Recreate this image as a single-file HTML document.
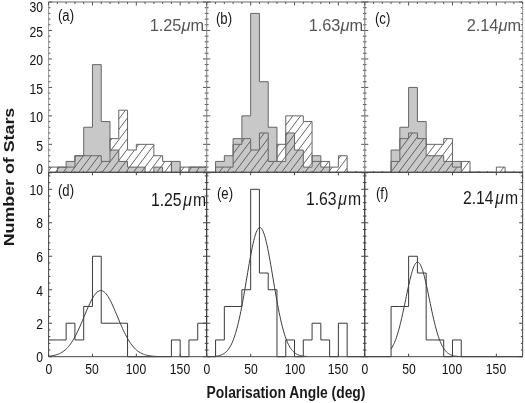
<!DOCTYPE html><html><head><meta charset="utf-8"><style>
html,body{margin:0;padding:0;background:#fff;}
body{width:525px;height:403px;overflow:hidden;position:relative;font-family:"Liberation Sans",sans-serif;}
#w{position:absolute;left:0;top:0;width:525px;height:403px;filter:blur(0.4px);}
svg{position:absolute;left:0;top:0;}
.t{position:absolute;white-space:nowrap;line-height:1;filter:grayscale(1);}
</style></head><body><div id="w">
<svg width="525" height="403" viewBox="0 0 525 403">
<defs>
<clipPath id="hc0"><path d="M48.6 172.3 L48.6 167.11 L57.37 167.11 L57.37 167.11 L66.14 167.11 L66.14 167.11 L74.92 167.11 L74.92 155.72 L83.69 155.72 L83.69 155.72 L92.46 155.72 L92.46 155.72 L101.23 155.72 L101.23 161.41 L110.01 161.41 L110.01 138.64 L118.78 138.64 L118.78 110.18 L127.55 110.18 L127.55 150.03 L136.32 150.03 L136.32 144.34 L145.09 144.34 L145.09 144.34 L153.87 144.34 L153.87 155.72 L162.64 155.72 L162.64 161.41 L171.41 161.41 L171.41 172.3 L180.18 172.3 L180.18 167.11 L188.96 167.11 L188.96 167.11 L197.73 167.11 L197.73 167.11 L206.5 167.11 L206.5 172.3 Z"/></clipPath>
<clipPath id="hc1"><path d="M206.8 172.3 L206.8 172.3 L215.57 172.3 L215.57 167.11 L224.34 167.11 L224.34 167.11 L233.12 167.11 L233.12 144.34 L241.89 144.34 L241.89 138.64 L250.66 138.64 L250.66 150.03 L259.43 150.03 L259.43 132.95 L268.21 132.95 L268.21 161.41 L276.98 161.41 L276.98 144.34 L285.75 144.34 L285.75 115.87 L294.52 115.87 L294.52 115.87 L303.29 115.87 L303.29 121.56 L312.07 121.56 L312.07 161.41 L320.84 161.41 L320.84 161.41 L329.61 161.41 L329.61 167.11 L338.38 167.11 L338.38 155.72 L347.16 155.72 L347.16 172.3 L355.93 172.3 L355.93 172.3 L364.7 172.3 L364.7 172.3 Z"/></clipPath>
<clipPath id="hc2"><path d="M364.75 172.3 L364.75 172.3 L373.52 172.3 L373.52 172.3 L382.29 172.3 L382.29 172.3 L391.07 172.3 L391.07 161.41 L399.84 161.41 L399.84 138.64 L408.61 138.64 L408.61 132.95 L417.38 132.95 L417.38 138.64 L426.16 138.64 L426.16 144.34 L434.93 144.34 L434.93 144.34 L443.7 144.34 L443.7 138.64 L452.47 138.64 L452.47 167.11 L461.24 167.11 L461.24 161.41 L470.02 161.41 L470.02 172.3 L478.79 172.3 L478.79 172.3 L487.56 172.3 L487.56 172.3 L496.33 172.3 L496.33 167.11 L505.11 167.11 L505.11 172.3 L513.88 172.3 L513.88 172.3 L522.65 172.3 L522.65 172.3 Z"/></clipPath>
</defs>
<path d="M48.6 172.3 L48.6 172.3 L57.37 172.3 L57.37 167.11 L66.14 167.11 L66.14 161.41 L74.92 161.41 L74.92 155.72 L83.69 155.72 L83.69 127.26 L92.46 127.26 L92.46 64.63 L101.23 64.63 L101.23 121.56 L110.01 121.56 L110.01 150.03 L118.78 150.03 L118.78 161.41 L127.55 161.41 L127.55 167.11 L136.32 167.11 L136.32 167.11 L145.09 167.11 L145.09 172.3 L153.87 172.3 L153.87 167.11 L162.64 167.11 L162.64 172.3 L171.41 172.3 L171.41 161.41 L180.18 161.41 L180.18 172.3 L188.96 172.3 L188.96 167.11 L197.73 167.11 L197.73 167.11 L206.5 167.11 L206.5 172.3 Z" fill="#c8c8c8" stroke="none"/>
<path d="M-93.2 172.8 L35.22 2 M-85.4 172.8 L43.02 2 M-77.6 172.8 L50.82 2 M-69.8 172.8 L58.62 2 M-62 172.8 L66.42 2 M-54.2 172.8 L74.22 2 M-46.4 172.8 L82.02 2 M-38.6 172.8 L89.82 2 M-30.8 172.8 L97.62 2 M-23 172.8 L105.42 2 M-15.2 172.8 L113.22 2 M-7.4 172.8 L121.02 2 M0.4 172.8 L128.82 2 M8.2 172.8 L136.62 2 M16 172.8 L144.42 2 M23.8 172.8 L152.22 2 M31.6 172.8 L160.02 2 M39.4 172.8 L167.82 2 M47.2 172.8 L175.62 2 M55 172.8 L183.42 2 M62.8 172.8 L191.22 2 M70.6 172.8 L199.02 2 M78.4 172.8 L206.82 2 M86.2 172.8 L214.62 2 M94 172.8 L222.42 2 M101.8 172.8 L230.22 2 M109.6 172.8 L238.02 2 M117.4 172.8 L245.82 2 M125.2 172.8 L253.62 2 M133 172.8 L261.42 2 M140.8 172.8 L269.22 2 M148.6 172.8 L277.02 2 M156.4 172.8 L284.82 2 M164.2 172.8 L292.62 2 M172 172.8 L300.42 2 M179.8 172.8 L308.22 2 M187.6 172.8 L316.02 2 M195.4 172.8 L323.82 2 M203.2 172.8 L331.62 2 M211 172.8 L339.42 2" clip-path="url(#hc0)" stroke="#555" stroke-width="0.9" fill="none"/>
<path d="M48.6 172.3 L48.6 172.3 L57.37 172.3 L57.37 167.11 L66.14 167.11 L66.14 161.41 L74.92 161.41 L74.92 155.72 L83.69 155.72 L83.69 127.26 L92.46 127.26 L92.46 64.63 L101.23 64.63 L101.23 121.56 L110.01 121.56 L110.01 150.03 L118.78 150.03 L118.78 161.41 L127.55 161.41 L127.55 167.11 L136.32 167.11 L136.32 167.11 L145.09 167.11 L145.09 172.3 L153.87 172.3 L153.87 167.11 L162.64 167.11 L162.64 172.3 L171.41 172.3 L171.41 161.41 L180.18 161.41 L180.18 172.3 L188.96 172.3 L188.96 167.11 L197.73 167.11 L197.73 167.11 L206.5 167.11 L206.5 172.3" fill="none" stroke="#666" stroke-width="1"/>
<path d="M48.6 172.3 L48.6 167.11 L57.37 167.11 L57.37 167.11 L66.14 167.11 L66.14 167.11 L74.92 167.11 L74.92 155.72 L83.69 155.72 L83.69 155.72 L92.46 155.72 L92.46 155.72 L101.23 155.72 L101.23 161.41 L110.01 161.41 L110.01 138.64 L118.78 138.64 L118.78 110.18 L127.55 110.18 L127.55 150.03 L136.32 150.03 L136.32 144.34 L145.09 144.34 L145.09 144.34 L153.87 144.34 L153.87 155.72 L162.64 155.72 L162.64 161.41 L171.41 161.41 L171.41 172.3 L180.18 172.3 L180.18 167.11 L188.96 167.11 L188.96 167.11 L197.73 167.11 L197.73 167.11 L206.5 167.11 L206.5 172.3" fill="none" stroke="#666" stroke-width="1"/>
<path d="M206.8 172.3 L206.8 172.3 L215.57 172.3 L215.57 161.41 L224.34 161.41 L224.34 155.72 L233.12 155.72 L233.12 138.64 L241.89 138.64 L241.89 115.87 L250.66 115.87 L250.66 13.4 L259.43 13.4 L259.43 81.71 L268.21 81.71 L268.21 127.26 L276.98 127.26 L276.98 161.41 L285.75 161.41 L285.75 132.95 L294.52 132.95 L294.52 150.03 L303.29 150.03 L303.29 167.11 L312.07 167.11 L312.07 155.72 L320.84 155.72 L320.84 167.11 L329.61 167.11 L329.61 172.3 L338.38 172.3 L338.38 172.3 L347.16 172.3 L347.16 172.3 L355.93 172.3 L355.93 172.3 L364.7 172.3 L364.7 172.3 Z" fill="#c8c8c8" stroke="none"/>
<path d="M70.6 172.8 L199.02 2 M78.4 172.8 L206.82 2 M86.2 172.8 L214.62 2 M94 172.8 L222.42 2 M101.8 172.8 L230.22 2 M109.6 172.8 L238.02 2 M117.4 172.8 L245.82 2 M125.2 172.8 L253.62 2 M133 172.8 L261.42 2 M140.8 172.8 L269.22 2 M148.6 172.8 L277.02 2 M156.4 172.8 L284.82 2 M164.2 172.8 L292.62 2 M172 172.8 L300.42 2 M179.8 172.8 L308.22 2 M187.6 172.8 L316.02 2 M195.4 172.8 L323.82 2 M203.2 172.8 L331.62 2 M211 172.8 L339.42 2 M218.8 172.8 L347.22 2 M226.6 172.8 L355.02 2 M234.4 172.8 L362.82 2 M242.2 172.8 L370.62 2 M250 172.8 L378.42 2 M257.8 172.8 L386.22 2 M265.6 172.8 L394.02 2 M273.4 172.8 L401.82 2 M281.2 172.8 L409.62 2 M289 172.8 L417.42 2 M296.8 172.8 L425.22 2 M304.6 172.8 L433.02 2 M312.4 172.8 L440.82 2 M320.2 172.8 L448.62 2 M328 172.8 L456.42 2 M335.8 172.8 L464.22 2 M343.6 172.8 L472.02 2 M351.4 172.8 L479.82 2 M359.2 172.8 L487.62 2 M367 172.8 L495.42 2" clip-path="url(#hc1)" stroke="#555" stroke-width="0.9" fill="none"/>
<path d="M206.8 172.3 L206.8 172.3 L215.57 172.3 L215.57 161.41 L224.34 161.41 L224.34 155.72 L233.12 155.72 L233.12 138.64 L241.89 138.64 L241.89 115.87 L250.66 115.87 L250.66 13.4 L259.43 13.4 L259.43 81.71 L268.21 81.71 L268.21 127.26 L276.98 127.26 L276.98 161.41 L285.75 161.41 L285.75 132.95 L294.52 132.95 L294.52 150.03 L303.29 150.03 L303.29 167.11 L312.07 167.11 L312.07 155.72 L320.84 155.72 L320.84 167.11 L329.61 167.11 L329.61 172.3 L338.38 172.3 L338.38 172.3 L347.16 172.3 L347.16 172.3 L355.93 172.3 L355.93 172.3 L364.7 172.3 L364.7 172.3" fill="none" stroke="#666" stroke-width="1"/>
<path d="M206.8 172.3 L206.8 172.3 L215.57 172.3 L215.57 167.11 L224.34 167.11 L224.34 167.11 L233.12 167.11 L233.12 144.34 L241.89 144.34 L241.89 138.64 L250.66 138.64 L250.66 150.03 L259.43 150.03 L259.43 132.95 L268.21 132.95 L268.21 161.41 L276.98 161.41 L276.98 144.34 L285.75 144.34 L285.75 115.87 L294.52 115.87 L294.52 115.87 L303.29 115.87 L303.29 121.56 L312.07 121.56 L312.07 161.41 L320.84 161.41 L320.84 161.41 L329.61 161.41 L329.61 167.11 L338.38 167.11 L338.38 155.72 L347.16 155.72 L347.16 172.3 L355.93 172.3 L355.93 172.3 L364.7 172.3 L364.7 172.3" fill="none" stroke="#666" stroke-width="1"/>
<path d="M364.75 172.3 L364.75 172.3 L373.52 172.3 L373.52 172.3 L382.29 172.3 L382.29 172.3 L391.07 172.3 L391.07 150.03 L399.84 150.03 L399.84 127.26 L408.61 127.26 L408.61 87.41 L417.38 87.41 L417.38 121.56 L426.16 121.56 L426.16 155.72 L434.93 155.72 L434.93 155.72 L443.7 155.72 L443.7 161.41 L452.47 161.41 L452.47 161.41 L461.24 161.41 L461.24 172.3 L470.02 172.3 L470.02 172.3 L478.79 172.3 L478.79 172.3 L487.56 172.3 L487.56 172.3 L496.33 172.3 L496.33 172.3 L505.11 172.3 L505.11 172.3 L513.88 172.3 L513.88 172.3 L522.65 172.3 L522.65 172.3 Z" fill="#c8c8c8" stroke="none"/>
<path d="M226.6 172.8 L355.02 2 M234.4 172.8 L362.82 2 M242.2 172.8 L370.62 2 M250 172.8 L378.42 2 M257.8 172.8 L386.22 2 M265.6 172.8 L394.02 2 M273.4 172.8 L401.82 2 M281.2 172.8 L409.62 2 M289 172.8 L417.42 2 M296.8 172.8 L425.22 2 M304.6 172.8 L433.02 2 M312.4 172.8 L440.82 2 M320.2 172.8 L448.62 2 M328 172.8 L456.42 2 M335.8 172.8 L464.22 2 M343.6 172.8 L472.02 2 M351.4 172.8 L479.82 2 M359.2 172.8 L487.62 2 M367 172.8 L495.42 2 M374.8 172.8 L503.22 2 M382.6 172.8 L511.02 2 M390.4 172.8 L518.82 2 M398.2 172.8 L526.62 2 M406 172.8 L534.42 2 M413.8 172.8 L542.22 2 M421.6 172.8 L550.02 2 M429.4 172.8 L557.82 2 M437.2 172.8 L565.62 2 M445 172.8 L573.42 2 M452.8 172.8 L581.22 2 M460.6 172.8 L589.02 2 M468.4 172.8 L596.82 2 M476.2 172.8 L604.62 2 M484 172.8 L612.42 2 M491.8 172.8 L620.22 2 M499.6 172.8 L628.02 2 M507.4 172.8 L635.82 2 M515.2 172.8 L643.62 2 M523 172.8 L651.42 2 M530.8 172.8 L659.22 2" clip-path="url(#hc2)" stroke="#555" stroke-width="0.9" fill="none"/>
<path d="M364.75 172.3 L364.75 172.3 L373.52 172.3 L373.52 172.3 L382.29 172.3 L382.29 172.3 L391.07 172.3 L391.07 150.03 L399.84 150.03 L399.84 127.26 L408.61 127.26 L408.61 87.41 L417.38 87.41 L417.38 121.56 L426.16 121.56 L426.16 155.72 L434.93 155.72 L434.93 155.72 L443.7 155.72 L443.7 161.41 L452.47 161.41 L452.47 161.41 L461.24 161.41 L461.24 172.3 L470.02 172.3 L470.02 172.3 L478.79 172.3 L478.79 172.3 L487.56 172.3 L487.56 172.3 L496.33 172.3 L496.33 172.3 L505.11 172.3 L505.11 172.3 L513.88 172.3 L513.88 172.3 L522.65 172.3 L522.65 172.3" fill="none" stroke="#666" stroke-width="1"/>
<path d="M364.75 172.3 L364.75 172.3 L373.52 172.3 L373.52 172.3 L382.29 172.3 L382.29 172.3 L391.07 172.3 L391.07 161.41 L399.84 161.41 L399.84 138.64 L408.61 138.64 L408.61 132.95 L417.38 132.95 L417.38 138.64 L426.16 138.64 L426.16 144.34 L434.93 144.34 L434.93 144.34 L443.7 144.34 L443.7 138.64 L452.47 138.64 L452.47 167.11 L461.24 167.11 L461.24 161.41 L470.02 161.41 L470.02 172.3 L478.79 172.3 L478.79 172.3 L487.56 172.3 L487.56 172.3 L496.33 172.3 L496.33 167.11 L505.11 167.11 L505.11 172.3 L513.88 172.3 L513.88 172.3 L522.65 172.3 L522.65 172.3" fill="none" stroke="#666" stroke-width="1"/>
<path d="M48.6 339.96 L48.6 339.96 L57.37 339.96 L57.37 339.96 L66.14 339.96 L66.14 323.22 L74.92 323.22 L74.92 339.96 L83.69 339.96 L83.69 306.48 L92.46 306.48 L92.46 256.26 L101.23 256.26 L101.23 323.22 L110.01 323.22 L110.01 323.22 L118.78 323.22 L118.78 323.22 L127.55 323.22 L127.55 356.7 L136.32 356.7 L136.32 356.7 L145.09 356.7 L145.09 356.7 L153.87 356.7 L153.87 356.7 L162.64 356.7 L162.64 356.7 L171.41 356.7 L171.41 339.96 L180.18 339.96 L180.18 356.7 L188.96 356.7 L188.96 339.96 L197.73 339.96 L197.73 323.22 L206.5 323.22" fill="none" stroke="#3a3a3a" stroke-width="1"/>
<path d="M48.6 356.21 L49.51 356.12 L50.43 356.01 L51.34 355.89 L52.26 355.75 L53.17 355.58 L54.08 355.4 L55 355.18 L55.91 354.94 L56.82 354.66 L57.74 354.35 L58.65 354 L59.57 353.6 L60.48 353.15 L61.39 352.66 L62.31 352.1 L63.22 351.49 L64.13 350.81 L65.05 350.07 L65.96 349.25 L66.88 348.36 L67.79 347.39 L68.7 346.34 L69.62 345.2 L70.53 343.98 L71.44 342.67 L72.36 341.27 L73.27 339.79 L74.19 338.21 L75.1 336.55 L76.01 334.81 L76.93 332.98 L77.84 331.08 L78.75 329.12 L79.67 327.09 L80.58 325 L81.5 322.88 L82.41 320.71 L83.32 318.53 L84.24 316.33 L85.15 314.13 L86.06 311.95 L86.98 309.8 L87.89 307.7 L88.81 305.65 L89.72 303.68 L90.63 301.79 L91.55 300.01 L92.46 298.35 L93.37 296.81 L94.29 295.43 L95.2 294.2 L96.12 293.13 L97.03 292.24 L97.94 291.54 L98.86 291.02 L99.77 290.7 L100.69 290.58 L101.6 290.65 L102.51 290.93 L103.43 291.4 L104.34 292.06 L105.25 292.9 L106.17 293.93 L107.08 295.12 L108 296.47 L108.91 297.97 L109.82 299.6 L110.74 301.35 L111.65 303.21 L112.56 305.17 L113.48 307.2 L114.39 309.29 L115.31 311.44 L116.22 313.61 L117.13 315.8 L118.05 318 L118.96 320.19 L119.87 322.36 L120.79 324.5 L121.7 326.59 L122.62 328.64 L123.53 330.62 L124.44 332.53 L125.36 334.38 L126.27 336.14 L127.18 337.82 L128.1 339.42 L129.01 340.93 L129.93 342.34 L130.84 343.68 L131.75 344.92 L132.67 346.08 L133.58 347.15 L134.49 348.14 L135.41 349.05 L136.32 349.88 L137.24 350.64 L138.15 351.33 L139.06 351.96 L139.98 352.53 L140.89 353.04 L141.8 353.5 L142.72 353.9 L143.63 354.27 L144.55 354.59 L145.46 354.88 L146.37 355.13 L147.29 355.35 L148.2 355.54 L149.12 355.71 L150.03 355.86 L150.94 355.98 L151.86 356.09 L152.77 356.19 L153.68 356.27 L154.6 356.34 L155.51 356.4 L156.43 356.45 L157.34 356.49 L158.25 356.53" fill="none" stroke="#3a3a3a" stroke-width="1"/>
<path d="M206.8 356.7 L206.8 356.7 L215.57 356.7 L215.57 339.96 L224.34 339.96 L224.34 306.48 L233.12 306.48 L233.12 306.48 L241.89 306.48 L241.89 289.74 L250.66 289.74 L250.66 189.3 L259.43 189.3 L259.43 273 L268.21 273 L268.21 289.74 L276.98 289.74 L276.98 356.7 L285.75 356.7 L285.75 339.96 L294.52 339.96 L294.52 356.7 L303.29 356.7 L303.29 339.96 L312.07 339.96 L312.07 323.22 L320.84 323.22 L320.84 339.96 L329.61 339.96 L329.61 356.7 L338.38 356.7 L338.38 323.22 L347.16 323.22 L347.16 356.7 L355.93 356.7 L355.93 356.7 L364.7 356.7" fill="none" stroke="#3a3a3a" stroke-width="1"/>
<path d="M214.7 356.34 L215.46 356.27 L216.23 356.17 L217 356.06 L217.77 355.93 L218.53 355.77 L219.3 355.59 L220.07 355.37 L220.84 355.11 L221.6 354.82 L222.37 354.47 L223.14 354.08 L223.91 353.62 L224.67 353.09 L225.44 352.49 L226.21 351.8 L226.98 351.02 L227.74 350.14 L228.51 349.15 L229.28 348.04 L230.05 346.8 L230.81 345.42 L231.58 343.89 L232.35 342.2 L233.12 340.35 L233.88 338.32 L234.65 336.11 L235.42 333.71 L236.19 331.12 L236.95 328.34 L237.72 325.36 L238.49 322.19 L239.26 318.82 L240.02 315.27 L240.79 311.53 L241.56 307.63 L242.33 303.57 L243.1 299.37 L243.86 295.05 L244.63 290.63 L245.4 286.13 L246.17 281.58 L246.93 277.01 L247.7 272.45 L248.47 267.93 L249.24 263.48 L250 259.15 L250.77 254.96 L251.54 250.95 L252.31 247.16 L253.07 243.61 L253.84 240.35 L254.61 237.4 L255.38 234.79 L256.14 232.55 L256.91 230.7 L257.68 229.25 L258.45 228.22 L259.21 227.63 L259.98 227.47 L260.75 227.75 L261.52 228.47 L262.28 229.62 L263.05 231.19 L263.82 233.15 L264.59 235.5 L265.35 238.21 L266.12 241.25 L266.89 244.6 L267.66 248.22 L268.42 252.08 L269.19 256.14 L269.96 260.38 L270.73 264.74 L271.5 269.21 L272.26 273.75 L273.03 278.32 L273.8 282.88 L274.57 287.42 L275.33 291.9 L276.1 296.3 L276.87 300.58 L277.64 304.75 L278.4 308.76 L279.17 312.62 L279.94 316.3 L280.71 319.8 L281.47 323.11 L282.24 326.23 L283.01 329.16 L283.78 331.88 L284.54 334.42 L285.31 336.76 L286.08 338.92 L286.85 340.89 L287.61 342.7 L288.38 344.34 L289.15 345.83 L289.92 347.17 L290.68 348.37 L291.45 349.45 L292.22 350.4 L292.99 351.25 L293.75 352.01 L294.52 352.67 L295.29 353.25 L296.06 353.75 L296.82 354.2 L297.59 354.58 L298.36 354.91 L299.13 355.19 L299.9 355.43 L300.66 355.64 L301.43 355.82 L302.2 355.97 L302.97 356.09 L303.73 356.2 L304.5 356.29 L305.27 356.36 L306.04 356.43 L306.8 356.48" fill="none" stroke="#3a3a3a" stroke-width="1"/>
<path d="M364.75 356.7 L364.75 356.7 L373.52 356.7 L373.52 356.7 L382.29 356.7 L382.29 356.7 L391.07 356.7 L391.07 306.48 L399.84 306.48 L399.84 306.48 L408.61 306.48 L408.61 256.26 L417.38 256.26 L417.38 273 L426.16 273 L426.16 339.96 L434.93 339.96 L434.93 339.96 L443.7 339.96 L443.7 356.7 L452.47 356.7 L452.47 339.96 L461.24 339.96 L461.24 356.7 L470.02 356.7 L470.02 356.7 L478.79 356.7 L478.79 356.7 L487.56 356.7 L487.56 356.7 L496.33 356.7 L496.33 356.7 L505.11 356.7 L505.11 356.7 L513.88 356.7 L513.88 356.7 L522.65 356.7" fill="none" stroke="#3a3a3a" stroke-width="1"/>
<path d="M391.07 348.95 L391.65 348.06 L392.24 347.08 L392.82 346.03 L393.41 344.88 L393.99 343.65 L394.58 342.31 L395.16 340.89 L395.75 339.36 L396.33 337.73 L396.91 336 L397.5 334.17 L398.08 332.23 L398.67 330.19 L399.25 328.06 L399.84 325.82 L400.42 323.5 L401.01 321.08 L401.59 318.58 L402.18 316.01 L402.76 313.36 L403.35 310.66 L403.93 307.91 L404.52 305.12 L405.1 302.31 L405.69 299.48 L406.27 296.64 L406.86 293.83 L407.44 291.04 L408.03 288.29 L408.61 285.6 L409.2 282.99 L409.78 280.47 L410.37 278.05 L410.95 275.76 L411.54 273.6 L412.12 271.59 L412.7 269.74 L413.29 268.07 L413.87 266.59 L414.46 265.3 L415.04 264.23 L415.63 263.37 L416.21 262.73 L416.8 262.31 L417.38 262.13 L417.97 262.18 L418.55 262.45 L419.14 262.96 L419.72 263.68 L420.31 264.63 L420.89 265.79 L421.48 267.16 L422.06 268.72 L422.65 270.46 L423.23 272.37 L423.82 274.44 L424.4 276.66 L424.99 279 L425.57 281.47 L426.16 284.03 L426.74 286.67 L427.33 289.38 L427.91 292.15 L428.49 294.95 L429.08 297.78 L429.66 300.61 L430.25 303.43 L430.83 306.24 L431.42 309.02 L432 311.75 L432.59 314.43 L433.17 317.05 L433.76 319.59 L434.34 322.06 L434.93 324.44 L435.51 326.73 L436.1 328.92 L436.68 331.02 L437.27 333.02 L437.85 334.91 L438.44 336.71 L439.02 338.4 L439.61 339.98 L440.19 341.47 L440.78 342.86 L441.36 344.15 L441.95 345.35 L442.53 346.46 L443.12 347.48 L443.7 348.43 L444.28 349.29 L444.87 350.08 L445.45 350.8 L446.04 351.45 L446.62 352.05 L447.21 352.58 L447.79 353.07 L448.38 353.5 L448.96 353.89 L449.55 354.24 L450.13 354.55 L450.72 354.82 L451.3 355.07 L451.89 355.28 L452.47 355.47 L453.06 355.64 L453.64 355.79 L454.23 355.92 L454.81 356.03 L455.4 356.13 L455.98 356.21 L456.57 356.28 L457.15 356.35 L457.74 356.4 L458.32 356.45 L458.91 356.49 L459.49 356.52 L460.07 356.55 L460.66 356.57 L461.24 356.6" fill="none" stroke="#3a3a3a" stroke-width="1"/>
<path d="M48.6 2 H206.5 M48.6 172.3 H206.5" fill="none" stroke="#6a6a6a" stroke-width="1"/>
<path d="M48.6 2 V172.3 M206.5 2 V172.3" fill="none" stroke="#999" stroke-width="1"/>
<path d="M48.6 2 v3.5 M57.37 172.3 v-1.2 M57.37 2 v2 M66.14 172.3 v-1.2 M66.14 2 v2 M74.92 172.3 v-1.2 M74.92 2 v2 M83.69 172.3 v-1.2 M83.69 2 v2 M92.46 2 v3.5 M101.23 172.3 v-1.2 M101.23 2 v2 M110.01 172.3 v-1.2 M110.01 2 v2 M118.78 172.3 v-1.2 M118.78 2 v2 M127.55 172.3 v-1.2 M127.55 2 v2 M136.32 2 v3.5 M145.09 172.3 v-1.2 M145.09 2 v2 M153.87 172.3 v-1.2 M153.87 2 v2 M162.64 172.3 v-1.2 M162.64 2 v2 M171.41 172.3 v-1.2 M171.41 2 v2 M180.18 2 v3.5 M188.96 172.3 v-1.2 M188.96 2 v2 M197.73 172.3 v-1.2 M197.73 2 v2 M206.5 172.3 v-1.2 M206.5 2 v2 M48.6 172.8 h3.5 M206.5 172.8 h-3.5 M48.6 167.11 h1.8 M206.5 167.11 h-1.8 M48.6 161.41 h1.8 M206.5 161.41 h-1.8 M48.6 155.72 h1.8 M206.5 155.72 h-1.8 M48.6 150.03 h1.8 M206.5 150.03 h-1.8 M48.6 144.34 h3.5 M206.5 144.34 h-3.5 M48.6 138.64 h1.8 M206.5 138.64 h-1.8 M48.6 132.95 h1.8 M206.5 132.95 h-1.8 M48.6 127.26 h1.8 M206.5 127.26 h-1.8 M48.6 121.56 h1.8 M206.5 121.56 h-1.8 M48.6 115.87 h3.5 M206.5 115.87 h-3.5 M48.6 110.18 h1.8 M206.5 110.18 h-1.8 M48.6 104.48 h1.8 M206.5 104.48 h-1.8 M48.6 98.79 h1.8 M206.5 98.79 h-1.8 M48.6 93.1 h1.8 M206.5 93.1 h-1.8 M48.6 87.41 h3.5 M206.5 87.41 h-3.5 M48.6 81.71 h1.8 M206.5 81.71 h-1.8 M48.6 76.02 h1.8 M206.5 76.02 h-1.8 M48.6 70.33 h1.8 M206.5 70.33 h-1.8 M48.6 64.63 h1.8 M206.5 64.63 h-1.8 M48.6 58.94 h3.5 M206.5 58.94 h-3.5 M48.6 53.25 h1.8 M206.5 53.25 h-1.8 M48.6 47.55 h1.8 M206.5 47.55 h-1.8 M48.6 41.86 h1.8 M206.5 41.86 h-1.8 M48.6 36.17 h1.8 M206.5 36.17 h-1.8 M48.6 30.48 h3.5 M206.5 30.48 h-3.5 M48.6 24.78 h1.8 M206.5 24.78 h-1.8 M48.6 19.09 h1.8 M206.5 19.09 h-1.8 M48.6 13.4 h1.8 M206.5 13.4 h-1.8 M48.6 7.7 h1.8 M206.5 7.7 h-1.8 M48.6 2.01 h3.5 M206.5 2.01 h-3.5" fill="none" stroke="#555" stroke-width="1"/>
<path d="M48.6 172.3 H206.5 M48.6 356.7 H206.5" fill="none" stroke="#444" stroke-width="1"/>
<path d="M48.6 172.3 V356.7 M206.5 172.3 V356.7" fill="none" stroke="#444" stroke-width="1"/>
<path d="M48.6 356.7 v-3 M48.6 172.3 v3 M92.46 356.7 v-3 M92.46 172.3 v3 M136.32 356.7 v-3 M136.32 172.3 v3 M180.18 356.7 v-3 M180.18 172.3 v3 M48.6 356.7 h3.5 M206.5 356.7 h-3.5 M48.6 350 h1.8 M206.5 350 h-1.8 M48.6 343.31 h1.8 M206.5 343.31 h-1.8 M48.6 336.61 h1.8 M206.5 336.61 h-1.8 M48.6 329.92 h1.8 M206.5 329.92 h-1.8 M48.6 323.22 h3.5 M206.5 323.22 h-3.5 M48.6 316.52 h1.8 M206.5 316.52 h-1.8 M48.6 309.83 h1.8 M206.5 309.83 h-1.8 M48.6 303.13 h1.8 M206.5 303.13 h-1.8 M48.6 296.44 h1.8 M206.5 296.44 h-1.8 M48.6 289.74 h3.5 M206.5 289.74 h-3.5 M48.6 283.04 h1.8 M206.5 283.04 h-1.8 M48.6 276.35 h1.8 M206.5 276.35 h-1.8 M48.6 269.65 h1.8 M206.5 269.65 h-1.8 M48.6 262.96 h1.8 M206.5 262.96 h-1.8 M48.6 256.26 h3.5 M206.5 256.26 h-3.5 M48.6 249.56 h1.8 M206.5 249.56 h-1.8 M48.6 242.87 h1.8 M206.5 242.87 h-1.8 M48.6 236.17 h1.8 M206.5 236.17 h-1.8 M48.6 229.48 h1.8 M206.5 229.48 h-1.8 M48.6 222.78 h3.5 M206.5 222.78 h-3.5 M48.6 216.08 h1.8 M206.5 216.08 h-1.8 M48.6 209.39 h1.8 M206.5 209.39 h-1.8 M48.6 202.69 h1.8 M206.5 202.69 h-1.8 M48.6 196 h1.8 M206.5 196 h-1.8 M48.6 189.3 h3.5 M206.5 189.3 h-3.5 M48.6 182.6 h1.8 M206.5 182.6 h-1.8 M48.6 175.91 h1.8 M206.5 175.91 h-1.8" fill="none" stroke="#444" stroke-width="1"/>
<path d="M206.8 2 H364.7 M206.8 172.3 H364.7" fill="none" stroke="#6a6a6a" stroke-width="1"/>
<path d="M206.8 2 V172.3 M364.7 2 V172.3" fill="none" stroke="#999" stroke-width="1"/>
<path d="M206.8 2 v3.5 M215.57 172.3 v-1.2 M215.57 2 v2 M224.34 172.3 v-1.2 M224.34 2 v2 M233.12 172.3 v-1.2 M233.12 2 v2 M241.89 172.3 v-1.2 M241.89 2 v2 M250.66 2 v3.5 M259.43 172.3 v-1.2 M259.43 2 v2 M268.21 172.3 v-1.2 M268.21 2 v2 M276.98 172.3 v-1.2 M276.98 2 v2 M285.75 172.3 v-1.2 M285.75 2 v2 M294.52 2 v3.5 M303.29 172.3 v-1.2 M303.29 2 v2 M312.07 172.3 v-1.2 M312.07 2 v2 M320.84 172.3 v-1.2 M320.84 2 v2 M329.61 172.3 v-1.2 M329.61 2 v2 M338.38 2 v3.5 M347.16 172.3 v-1.2 M347.16 2 v2 M355.93 172.3 v-1.2 M355.93 2 v2 M364.7 172.3 v-1.2 M364.7 2 v2 M206.8 172.8 h3.5 M364.7 172.8 h-3.5 M206.8 167.11 h1.8 M364.7 167.11 h-1.8 M206.8 161.41 h1.8 M364.7 161.41 h-1.8 M206.8 155.72 h1.8 M364.7 155.72 h-1.8 M206.8 150.03 h1.8 M364.7 150.03 h-1.8 M206.8 144.34 h3.5 M364.7 144.34 h-3.5 M206.8 138.64 h1.8 M364.7 138.64 h-1.8 M206.8 132.95 h1.8 M364.7 132.95 h-1.8 M206.8 127.26 h1.8 M364.7 127.26 h-1.8 M206.8 121.56 h1.8 M364.7 121.56 h-1.8 M206.8 115.87 h3.5 M364.7 115.87 h-3.5 M206.8 110.18 h1.8 M364.7 110.18 h-1.8 M206.8 104.48 h1.8 M364.7 104.48 h-1.8 M206.8 98.79 h1.8 M364.7 98.79 h-1.8 M206.8 93.1 h1.8 M364.7 93.1 h-1.8 M206.8 87.41 h3.5 M364.7 87.41 h-3.5 M206.8 81.71 h1.8 M364.7 81.71 h-1.8 M206.8 76.02 h1.8 M364.7 76.02 h-1.8 M206.8 70.33 h1.8 M364.7 70.33 h-1.8 M206.8 64.63 h1.8 M364.7 64.63 h-1.8 M206.8 58.94 h3.5 M364.7 58.94 h-3.5 M206.8 53.25 h1.8 M364.7 53.25 h-1.8 M206.8 47.55 h1.8 M364.7 47.55 h-1.8 M206.8 41.86 h1.8 M364.7 41.86 h-1.8 M206.8 36.17 h1.8 M364.7 36.17 h-1.8 M206.8 30.48 h3.5 M364.7 30.48 h-3.5 M206.8 24.78 h1.8 M364.7 24.78 h-1.8 M206.8 19.09 h1.8 M364.7 19.09 h-1.8 M206.8 13.4 h1.8 M364.7 13.4 h-1.8 M206.8 7.7 h1.8 M364.7 7.7 h-1.8 M206.8 2.01 h3.5 M364.7 2.01 h-3.5" fill="none" stroke="#555" stroke-width="1"/>
<path d="M206.8 172.3 H364.7 M206.8 356.7 H364.7" fill="none" stroke="#444" stroke-width="1"/>
<path d="M206.8 172.3 V356.7 M364.7 172.3 V356.7" fill="none" stroke="#444" stroke-width="1"/>
<path d="M206.8 356.7 v-3 M206.8 172.3 v3 M250.66 356.7 v-3 M250.66 172.3 v3 M294.52 356.7 v-3 M294.52 172.3 v3 M338.38 356.7 v-3 M338.38 172.3 v3 M206.8 356.7 h3.5 M364.7 356.7 h-3.5 M206.8 350 h1.8 M364.7 350 h-1.8 M206.8 343.31 h1.8 M364.7 343.31 h-1.8 M206.8 336.61 h1.8 M364.7 336.61 h-1.8 M206.8 329.92 h1.8 M364.7 329.92 h-1.8 M206.8 323.22 h3.5 M364.7 323.22 h-3.5 M206.8 316.52 h1.8 M364.7 316.52 h-1.8 M206.8 309.83 h1.8 M364.7 309.83 h-1.8 M206.8 303.13 h1.8 M364.7 303.13 h-1.8 M206.8 296.44 h1.8 M364.7 296.44 h-1.8 M206.8 289.74 h3.5 M364.7 289.74 h-3.5 M206.8 283.04 h1.8 M364.7 283.04 h-1.8 M206.8 276.35 h1.8 M364.7 276.35 h-1.8 M206.8 269.65 h1.8 M364.7 269.65 h-1.8 M206.8 262.96 h1.8 M364.7 262.96 h-1.8 M206.8 256.26 h3.5 M364.7 256.26 h-3.5 M206.8 249.56 h1.8 M364.7 249.56 h-1.8 M206.8 242.87 h1.8 M364.7 242.87 h-1.8 M206.8 236.17 h1.8 M364.7 236.17 h-1.8 M206.8 229.48 h1.8 M364.7 229.48 h-1.8 M206.8 222.78 h3.5 M364.7 222.78 h-3.5 M206.8 216.08 h1.8 M364.7 216.08 h-1.8 M206.8 209.39 h1.8 M364.7 209.39 h-1.8 M206.8 202.69 h1.8 M364.7 202.69 h-1.8 M206.8 196 h1.8 M364.7 196 h-1.8 M206.8 189.3 h3.5 M364.7 189.3 h-3.5 M206.8 182.6 h1.8 M364.7 182.6 h-1.8 M206.8 175.91 h1.8 M364.7 175.91 h-1.8" fill="none" stroke="#444" stroke-width="1"/>
<path d="M364.75 2 H522.65 M364.75 172.3 H522.65" fill="none" stroke="#6a6a6a" stroke-width="1"/>
<path d="M364.75 2 V172.3 M522.65 2 V172.3" fill="none" stroke="#999" stroke-width="1"/>
<path d="M364.75 2 v3.5 M373.52 172.3 v-1.2 M373.52 2 v2 M382.29 172.3 v-1.2 M382.29 2 v2 M391.07 172.3 v-1.2 M391.07 2 v2 M399.84 172.3 v-1.2 M399.84 2 v2 M408.61 2 v3.5 M417.38 172.3 v-1.2 M417.38 2 v2 M426.16 172.3 v-1.2 M426.16 2 v2 M434.93 172.3 v-1.2 M434.93 2 v2 M443.7 172.3 v-1.2 M443.7 2 v2 M452.47 2 v3.5 M461.24 172.3 v-1.2 M461.24 2 v2 M470.02 172.3 v-1.2 M470.02 2 v2 M478.79 172.3 v-1.2 M478.79 2 v2 M487.56 172.3 v-1.2 M487.56 2 v2 M496.33 2 v3.5 M505.11 172.3 v-1.2 M505.11 2 v2 M513.88 172.3 v-1.2 M513.88 2 v2 M522.65 172.3 v-1.2 M522.65 2 v2 M364.75 172.8 h3.5 M522.65 172.8 h-3.5 M364.75 167.11 h1.8 M522.65 167.11 h-1.8 M364.75 161.41 h1.8 M522.65 161.41 h-1.8 M364.75 155.72 h1.8 M522.65 155.72 h-1.8 M364.75 150.03 h1.8 M522.65 150.03 h-1.8 M364.75 144.34 h3.5 M522.65 144.34 h-3.5 M364.75 138.64 h1.8 M522.65 138.64 h-1.8 M364.75 132.95 h1.8 M522.65 132.95 h-1.8 M364.75 127.26 h1.8 M522.65 127.26 h-1.8 M364.75 121.56 h1.8 M522.65 121.56 h-1.8 M364.75 115.87 h3.5 M522.65 115.87 h-3.5 M364.75 110.18 h1.8 M522.65 110.18 h-1.8 M364.75 104.48 h1.8 M522.65 104.48 h-1.8 M364.75 98.79 h1.8 M522.65 98.79 h-1.8 M364.75 93.1 h1.8 M522.65 93.1 h-1.8 M364.75 87.41 h3.5 M522.65 87.41 h-3.5 M364.75 81.71 h1.8 M522.65 81.71 h-1.8 M364.75 76.02 h1.8 M522.65 76.02 h-1.8 M364.75 70.33 h1.8 M522.65 70.33 h-1.8 M364.75 64.63 h1.8 M522.65 64.63 h-1.8 M364.75 58.94 h3.5 M522.65 58.94 h-3.5 M364.75 53.25 h1.8 M522.65 53.25 h-1.8 M364.75 47.55 h1.8 M522.65 47.55 h-1.8 M364.75 41.86 h1.8 M522.65 41.86 h-1.8 M364.75 36.17 h1.8 M522.65 36.17 h-1.8 M364.75 30.48 h3.5 M522.65 30.48 h-3.5 M364.75 24.78 h1.8 M522.65 24.78 h-1.8 M364.75 19.09 h1.8 M522.65 19.09 h-1.8 M364.75 13.4 h1.8 M522.65 13.4 h-1.8 M364.75 7.7 h1.8 M522.65 7.7 h-1.8 M364.75 2.01 h3.5 M522.65 2.01 h-3.5" fill="none" stroke="#555" stroke-width="1"/>
<path d="M364.75 172.3 H522.65 M364.75 356.7 H522.65" fill="none" stroke="#444" stroke-width="1"/>
<path d="M364.75 172.3 V356.7 M522.65 172.3 V356.7" fill="none" stroke="#444" stroke-width="1"/>
<path d="M364.75 356.7 v-3 M364.75 172.3 v3 M408.61 356.7 v-3 M408.61 172.3 v3 M452.47 356.7 v-3 M452.47 172.3 v3 M496.33 356.7 v-3 M496.33 172.3 v3 M364.75 356.7 h3.5 M522.65 356.7 h-3.5 M364.75 350 h1.8 M522.65 350 h-1.8 M364.75 343.31 h1.8 M522.65 343.31 h-1.8 M364.75 336.61 h1.8 M522.65 336.61 h-1.8 M364.75 329.92 h1.8 M522.65 329.92 h-1.8 M364.75 323.22 h3.5 M522.65 323.22 h-3.5 M364.75 316.52 h1.8 M522.65 316.52 h-1.8 M364.75 309.83 h1.8 M522.65 309.83 h-1.8 M364.75 303.13 h1.8 M522.65 303.13 h-1.8 M364.75 296.44 h1.8 M522.65 296.44 h-1.8 M364.75 289.74 h3.5 M522.65 289.74 h-3.5 M364.75 283.04 h1.8 M522.65 283.04 h-1.8 M364.75 276.35 h1.8 M522.65 276.35 h-1.8 M364.75 269.65 h1.8 M522.65 269.65 h-1.8 M364.75 262.96 h1.8 M522.65 262.96 h-1.8 M364.75 256.26 h3.5 M522.65 256.26 h-3.5 M364.75 249.56 h1.8 M522.65 249.56 h-1.8 M364.75 242.87 h1.8 M522.65 242.87 h-1.8 M364.75 236.17 h1.8 M522.65 236.17 h-1.8 M364.75 229.48 h1.8 M522.65 229.48 h-1.8 M364.75 222.78 h3.5 M522.65 222.78 h-3.5 M364.75 216.08 h1.8 M522.65 216.08 h-1.8 M364.75 209.39 h1.8 M522.65 209.39 h-1.8 M364.75 202.69 h1.8 M522.65 202.69 h-1.8 M364.75 196 h1.8 M522.65 196 h-1.8 M364.75 189.3 h3.5 M522.65 189.3 h-3.5 M364.75 182.6 h1.8 M522.65 182.6 h-1.8 M364.75 175.91 h1.8 M522.65 175.91 h-1.8" fill="none" stroke="#444" stroke-width="1"/>
</svg>
<div class="t" style="left:43.2px;top:6.8px;font-size:14px;font-weight:normal;color:#111;transform:translate(-100%,-50%) scaleX(0.87);transform-origin:right center;">30</div>
<div class="t" style="left:43.2px;top:31.6px;font-size:14px;font-weight:normal;color:#111;transform:translate(-100%,-50%) scaleX(0.87);transform-origin:right center;">25</div>
<div class="t" style="left:43.2px;top:60.3px;font-size:14px;font-weight:normal;color:#111;transform:translate(-100%,-50%) scaleX(0.87);transform-origin:right center;">20</div>
<div class="t" style="left:43.2px;top:88.5px;font-size:14px;font-weight:normal;color:#111;transform:translate(-100%,-50%) scaleX(0.87);transform-origin:right center;">15</div>
<div class="t" style="left:43.2px;top:116.7px;font-size:14px;font-weight:normal;color:#111;transform:translate(-100%,-50%) scaleX(0.87);transform-origin:right center;">10</div>
<div class="t" style="left:43.2px;top:145.8px;font-size:14px;font-weight:normal;color:#111;transform:translate(-100%,-50%) scaleX(0.87);transform-origin:right center;">5</div>
<div class="t" style="left:43.2px;top:168.9px;font-size:14px;font-weight:normal;color:#111;transform:translate(-100%,-50%) scaleX(0.87);transform-origin:right center;">0</div>
<div class="t" style="left:43.2px;top:189.8px;font-size:14px;font-weight:normal;color:#111;transform:translate(-100%,-50%) scaleX(0.87);transform-origin:right center;">10</div>
<div class="t" style="left:43.2px;top:223.3px;font-size:14px;font-weight:normal;color:#111;transform:translate(-100%,-50%) scaleX(0.87);transform-origin:right center;">8</div>
<div class="t" style="left:43.2px;top:256.6px;font-size:14px;font-weight:normal;color:#111;transform:translate(-100%,-50%) scaleX(0.87);transform-origin:right center;">6</div>
<div class="t" style="left:43.2px;top:290.9px;font-size:14px;font-weight:normal;color:#111;transform:translate(-100%,-50%) scaleX(0.87);transform-origin:right center;">4</div>
<div class="t" style="left:43.2px;top:323.6px;font-size:14px;font-weight:normal;color:#111;transform:translate(-100%,-50%) scaleX(0.87);transform-origin:right center;">2</div>
<div class="t" style="left:43.2px;top:357px;font-size:14px;font-weight:normal;color:#111;transform:translate(-100%,-50%) scaleX(0.87);transform-origin:right center;">0</div>
<div class="t" style="left:48.6px;top:368.9px;font-size:14px;font-weight:normal;color:#111;transform:translate(-50%,-50%) scaleX(0.87);transform-origin:center center;">0</div>
<div class="t" style="left:92.46px;top:368.9px;font-size:14px;font-weight:normal;color:#111;transform:translate(-50%,-50%) scaleX(0.87);transform-origin:center center;">50</div>
<div class="t" style="left:136.32px;top:368.9px;font-size:14px;font-weight:normal;color:#111;transform:translate(-50%,-50%) scaleX(0.87);transform-origin:center center;">100</div>
<div class="t" style="left:180.18px;top:368.9px;font-size:14px;font-weight:normal;color:#111;transform:translate(-50%,-50%) scaleX(0.87);transform-origin:center center;">150</div>
<div class="t" style="left:206.8px;top:368.9px;font-size:14px;font-weight:normal;color:#111;transform:translate(-50%,-50%) scaleX(0.87);transform-origin:center center;">0</div>
<div class="t" style="left:250.66px;top:368.9px;font-size:14px;font-weight:normal;color:#111;transform:translate(-50%,-50%) scaleX(0.87);transform-origin:center center;">50</div>
<div class="t" style="left:294.52px;top:368.9px;font-size:14px;font-weight:normal;color:#111;transform:translate(-50%,-50%) scaleX(0.87);transform-origin:center center;">100</div>
<div class="t" style="left:338.38px;top:368.9px;font-size:14px;font-weight:normal;color:#111;transform:translate(-50%,-50%) scaleX(0.87);transform-origin:center center;">150</div>
<div class="t" style="left:364.75px;top:368.9px;font-size:14px;font-weight:normal;color:#111;transform:translate(-50%,-50%) scaleX(0.87);transform-origin:center center;">0</div>
<div class="t" style="left:408.61px;top:368.9px;font-size:14px;font-weight:normal;color:#111;transform:translate(-50%,-50%) scaleX(0.87);transform-origin:center center;">50</div>
<div class="t" style="left:452.47px;top:368.9px;font-size:14px;font-weight:normal;color:#111;transform:translate(-50%,-50%) scaleX(0.87);transform-origin:center center;">100</div>
<div class="t" style="left:496.33px;top:368.9px;font-size:14px;font-weight:normal;color:#111;transform:translate(-50%,-50%) scaleX(0.87);transform-origin:center center;">150</div>
<div class="t" style="left:57.9px;top:16.4px;font-size:16px;font-weight:normal;color:#161616;transform:translate(0,-50%) scaleX(0.82);transform-origin:left center;">(a)</div>
<div class="t" style="left:215.8px;top:18.6px;font-size:16px;font-weight:normal;color:#161616;transform:translate(0,-50%) scaleX(0.82);transform-origin:left center;">(b)</div>
<div class="t" style="left:375.1px;top:18.5px;font-size:16px;font-weight:normal;color:#161616;transform:translate(0,-50%) scaleX(0.82);transform-origin:left center;">(c)</div>
<div class="t" style="left:57.9px;top:191.4px;font-size:16px;font-weight:normal;color:#161616;transform:translate(0,-50%) scaleX(0.82);transform-origin:left center;">(d)</div>
<div class="t" style="left:216.7px;top:193.8px;font-size:16px;font-weight:normal;color:#161616;transform:translate(0,-50%) scaleX(0.82);transform-origin:left center;">(e)</div>
<div class="t" style="left:376.3px;top:193.8px;font-size:16px;font-weight:normal;color:#161616;transform:translate(0,-50%) scaleX(0.82);transform-origin:left center;">(f)</div>
<div class="t" style="left:204px;top:25px;font-size:16.5px;font-weight:normal;color:#555;transform:translate(-100%,-50%) scaleX(0.99);transform-origin:right center;">1.25<i>&mu;</i>m</div>
<div class="t" style="left:362.8px;top:25px;font-size:16.5px;font-weight:normal;color:#555;transform:translate(-100%,-50%) scaleX(0.99);transform-origin:right center;">1.63<i>&mu;</i>m</div>
<div class="t" style="left:520.9px;top:25px;font-size:16.5px;font-weight:normal;color:#555;transform:translate(-100%,-50%) scaleX(0.99);transform-origin:right center;">2.14<i>&mu;</i>m</div>
<div class="t" style="left:206px;top:200.7px;font-size:17.5px;font-weight:normal;color:#1a1a1a;transform:translate(-100%,-50%) scaleX(0.9);transform-origin:right center;">1.25<i style="margin:0 1px 0 2px">&mu;</i>m</div>
<div class="t" style="left:361.3px;top:200.3px;font-size:17.5px;font-weight:normal;color:#1a1a1a;transform:translate(-100%,-50%) scaleX(0.9);transform-origin:right center;">1.63<i style="margin:0 1px 0 2px">&mu;</i>m</div>
<div class="t" style="left:518.3px;top:199.3px;font-size:17.5px;font-weight:normal;color:#1a1a1a;transform:translate(-100%,-50%) scaleX(0.9);transform-origin:right center;">2.14<i style="margin:0 1px 0 2px">&mu;</i>m</div>
<div class="t" style="left:285.9px;top:392.5px;font-size:16px;font-weight:bold;color:#1a1a1a;transform:translate(-50%,-50%) scaleX(0.866);transform-origin:center center;">Polarisation Angle (deg)</div>
<div class="t" style="left:9px;top:176.5px;font-size:14.7px;font-weight:bold;color:#1a1a1a;transform:translate(-50%,-50%) rotate(-90deg) scaleX(1.212);">Number of Stars</div>
</div></body></html>
